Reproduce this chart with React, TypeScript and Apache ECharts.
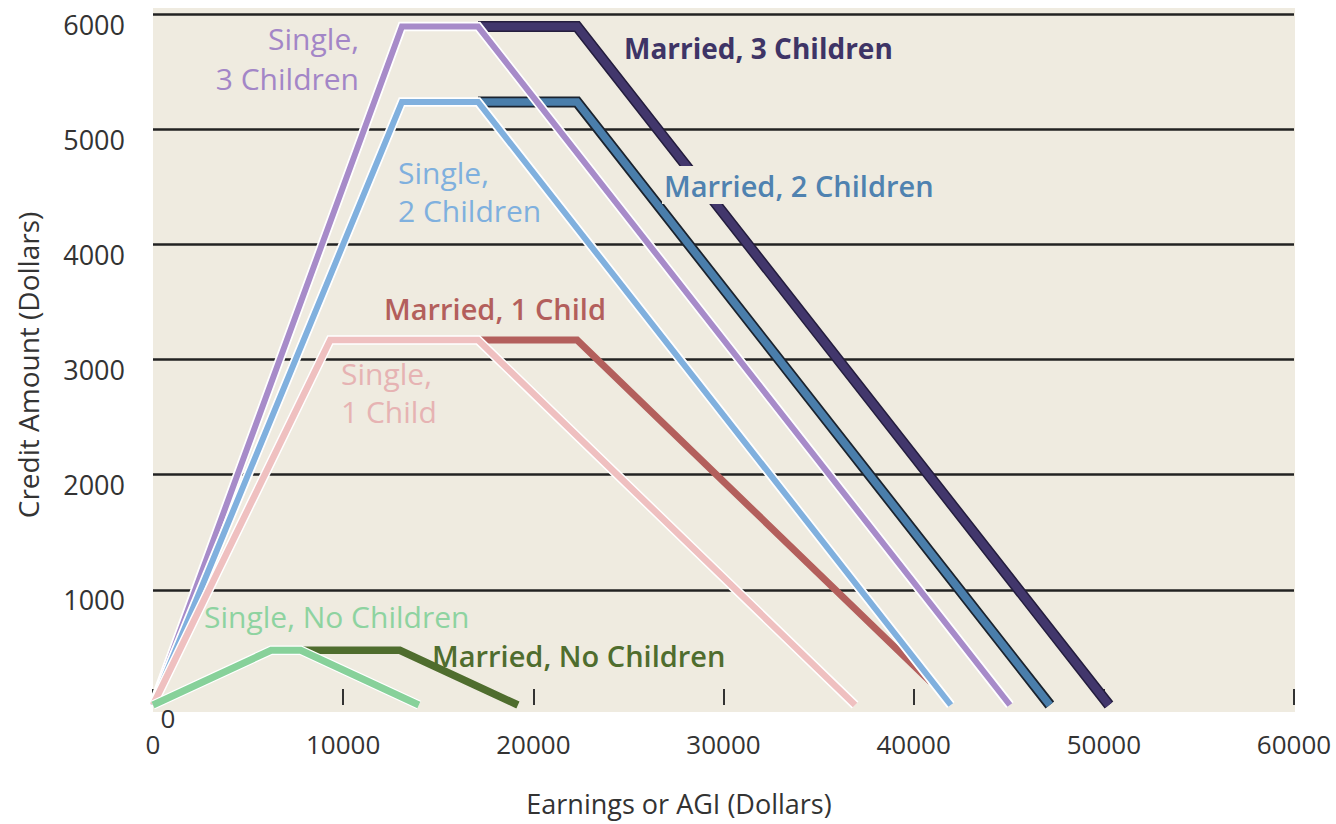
import React, { useEffect, useRef } from "react";
import * as echarts from "echarts";

// Earned Income Tax Credit schedules: [earnings, credit]
const singleNoChildren = [[0, 0], [6210, 475], [7770, 475], [13980, 0]];
const marriedNoChildren = [[7770, 475], [12980, 475], [19190, 0]];
const singleOneChild = [[0, 0], [9320, 3169], [17090, 3169], [36920, 0]];
const marriedOneChild = [[17090, 3169], [22300, 3169], [40900, 200]];
const singleTwoChildren = [[0, 0], [13090, 5236], [17090, 5236], [41952, 0]];
const marriedTwoChildren = [[17090, 5236], [22300, 5236], [47162, 0]];
const singleThreeChildren = [[0, 0], [13090, 5891], [17090, 5891], [45060, 0]];
const marriedThreeChildren = [[17090, 5891], [22300, 5891], [50270, 0]];

const xTicks = [0, 10000, 20000, 30000, 40000, 50000, 60000];
const yTicks = [0, 1000, 2000, 3000, 4000, 5000, 6000];

const FONT = "'Open Sans', 'Noto Sans', sans-serif";

function line(name: string, data: number[][], color: string, width: number) {
  return {
    type: "line",
    name,
    data,
    symbol: "none",
    silent: true,
    lineStyle: { color, width, cap: "butt", join: "miter" },
  };
}

function label(text: string, x: number, y: number, color: string, opts: any = {}) {
  return {
    type: "text",
    z: 100,
    x,
    y,
    style: {
      text,
      fill: color,
      fontFamily: FONT,
      fontSize: opts.size ?? 30,
      fontWeight: opts.weight ?? "normal",
      align: opts.align ?? "left",
      textAlign: opts.align ?? "left",
      verticalAlign: "middle",
      textVerticalAlign: "middle",
      lineHeight: opts.lineHeight ?? 38,
      backgroundColor: opts.bg,
      padding: opts.bg ? [0, 2] : undefined,
    },
  };
}

export default function App() {
  const ref = useRef<HTMLDivElement>(null);
  useEffect(() => {
    if (!ref.current) return;
    const chart = echarts.init(ref.current, undefined, { renderer: "svg" });
    const beige = "#efebe0";
    chart.setOption({
      animation: false,
      backgroundColor: "#ffffff",
      grid: {
        left: 153,
        right: 42,
        top: 14,
        bottom: 119,
        containLabel: false,
        outerBoundsMode: "none",
      },
      xAxis: {
        type: "value",
        min: xTicks[0],
        max: xTicks[xTicks.length - 1],
        interval: 10000,
        axisLine: { show: false },
        splitLine: { show: false },
        axisTick: { show: true, inside: true, length: 16, lineStyle: { color: "#333", width: 2 } },
        axisLabel: {
          color: "#333",
          fontFamily: FONT,
          fontSize: 26,
          margin: 26,
          formatter: (v: number) => String(v),
        },
      },
      yAxis: {
        type: "value",
        min: yTicks[0],
        max: yTicks[yTicks.length - 1],
        interval: 1000,
        axisLine: { show: false },
        axisTick: { show: false },
        splitLine: {
          show: true,
          lineStyle: {
            color: ["transparent", "#222", "#222", "#222", "#222", "#222", "#222"],
            width: 2.5,
          },
        },
        axisLabel: {
          color: "#333",
          fontFamily: FONT,
          fontSize: 27,
          margin: 28,
          verticalAlign: "top",
          lineHeight: 20,
          formatter: (v: number) => (v === 0 ? "" : String(v)),
        },
      },
      graphic: [
        { type: "rect", z: -100, shape: { x: 153, y: 8, width: 1142, height: 704 }, style: { fill: beige } },
        label("0", 168, 718, "#333", { size: 26, align: "center" }),
        {
          type: "text",
          z: 100,
          x: 28,
          y: 365,
          rotation: Math.PI / 2,
          style: {
            text: "Credit Amount (Dollars)",
            fill: "#333",
            fontFamily: FONT,
            fontSize: 28,
            align: "center",
            textAlign: "center",
            verticalAlign: "middle",
            textVerticalAlign: "middle",
          },
        },
        label("Earnings or AGI (Dollars)", 679, 803, "#333", { size: 27, align: "center" }),
        label("Single,\n3 Children", 359, 58, "#a386c7", { align: "right", lineHeight: 40 }),
        label("Married, 3 Children", 624, 48, "#3e3466", { weight: "bold", size: 28 }),
        label("Single,\n2 Children", 398, 191, "#7fb0de", {}),
        label("Married, 2 Children", 662, 185, "#4f82b0", { weight: 600, size: 29, bg: beige }),
        label("Married, 1 Child", 384, 308, "#b35f5c", { weight: 600, size: 29 }),
        label("Single,\n1 Child", 341, 392, "#e6b3b3", {}),
        label("Single, No Children", 204, 616, "#8ed3a0", {}),
        label("Married, No Children", 432, 655, "#4f6d2e", { weight: 600, size: 29 }),
      ],
      series: [
        line("Married, 3 Children border", marriedThreeChildren, "#241d3d", 11),
        line("Married, 3 Children", marriedThreeChildren, "#42376c", 8),
        line("Married, 2 Children border", marriedTwoChildren, "#1b232e", 11),
        line("Married, 2 Children", marriedTwoChildren, "#4a7eab", 7.5),
        line("Married, 1 Child", marriedOneChild, "#b35f5c", 7),
        line("Married, No Children", marriedNoChildren, "#4f6d2e", 7.5),
        line("Single, 3 Children halo", singleThreeChildren, "#ffffff", 9.5),
        line("Single, 3 Children", singleThreeChildren, "#a78bc9", 6),
        line("Single, 2 Children halo", singleTwoChildren, "#ffffff", 9.5),
        line("Single, 2 Children", singleTwoChildren, "#80b0de", 6),
        line("Single, 1 Child halo", singleOneChild, "#ffffff", 9.5),
        line("Single, 1 Child", singleOneChild, "#efc0c0", 6.5),
        line("Single, No Children halo", singleNoChildren, "#ffffff", 9.5),
        line("Single, No Children", singleNoChildren, "#87d19a", 7),
      ],
    });
    return () => chart.dispose();
  }, []);
  return (
    <div
      ref={ref}
      style={{ position: "absolute", left: 0, top: 0, width: 1336, height: 824 }}
    />
  );
}
